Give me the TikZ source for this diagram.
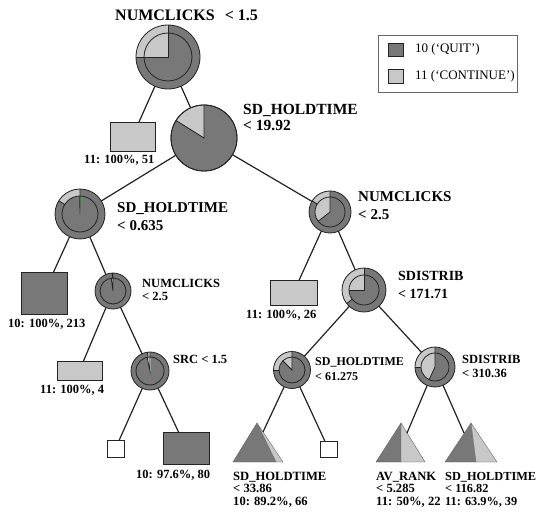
\documentclass[tikz,border=0pt]{standalone}
\usepackage{fontspec}
\setmainfont{Liberation Serif}
\usetikzlibrary{calc}

\definecolor{dk}{RGB}{120,120,120}
\definecolor{lt}{RGB}{200,200,200}
\definecolor{ln}{RGB}{35,35,35}
\definecolor{grn}{RGB}{60,170,60}

\newcommand\lblsize[1]{\fontsize{#1}{#1}\selectfont}

% double pie: outer ring = parent split, inner disc = node split
% #1 name, #2 centre, #3 outer radius, #4 inner radius,
% #5 end angle of the light outer wedge, #6 end angle of the light inner wedge
\newcommand\pienode[6]{%
  \node[circle, inner sep=0pt, outer sep=0pt, minimum size={2*#3pt}] (#1) at (#2) {};
  \begin{scope}[shift={(#1.center)}, yscale=-1]
    \fill[dk] (0,0) circle[radius=#3];
    \fill[lt] (0,0) -- (90:#3) arc[start angle=90, end angle=#5, radius=#3] -- cycle;
    \fill[dk] (0,0) circle[radius=#4];
    \fill[lt] (0,0) -- (90:#4) arc[start angle=90, end angle=#6, radius=#4] -- cycle;
    \draw[pieline] (#5:#4) -- (#5:#3);
    \draw[pieline] (90:#3) -- (0,0) -- (#6:#4);
    \draw[pieline] (0,0) circle[radius=#4];
    \draw[pieline] (0,0) circle[radius=#3];
  \end{scope}}

\begin{document}
\begin{tikzpicture}[x=1pt, y=-1pt,
    link/.style={draw=ln, line width=1.2pt},
    pieline/.style={draw=ln, line width=0.8pt},
    leafbox/.style={draw=ln, line width=0.8pt, inner sep=0pt, outer sep=0pt},
    lab/.style={anchor=base west, inner sep=0pt, font=\bfseries},
    leaflab/.style={anchor=base west, inner sep=0pt, font=\bfseries\lblsize{12.5}},
    tri/.style={draw=dk!80!black, line width=0.4pt, line join=round}]

  \useasboundingbox (0,0) rectangle (538,513);
  \fill[white] (0,0) rectangle (538,513);

  % ---- split nodes ----
  \pienode{root}{168,57}{32}{24}{180}{180}
  \pienode{sdh19}{204,138}{33}{33}{148}{148}
  \pienode{sdh635}{80,214}{25}{18}{148}{91}
  \draw[grn, line width=0.7pt] ([xshift=1pt]sdh635.center) -- ++(0.5,-17);
  \pienode{ncl}{113,291}{18}{13}{92}{98}
  \pienode{src}{150,371}{19}{14}{98}{102}
  \draw[grn!60!lt, line width=0.6pt] ([xshift=0.5pt]src.center) -- ++(0,-13);
  \pienode{ncr}{330,212}{21}{15}{148}{218}
  \pienode{sdi171}{364,290}{22}{15}{218}{180}
  \pienode{sdh61}{292,370}{18.5}{13}{180}{135}
  \pienode{sdi310}{435,367}{20}{14}{180}{245}

  % ---- leaves ----
  \node[leafbox, fill=lt, minimum width=45pt, minimum height=29pt] (l51) at (132.5,136.5) {};
  \node[leafbox, fill=dk, minimum width=46pt, minimum height=42pt] (l213) at (44,293) {};
  \node[leafbox, fill=lt, minimum width=45pt, minimum height=19pt] (l4) at (79.5,370.5) {};
  \node[leafbox, fill=lt, minimum width=47pt, minimum height=25pt] (l26) at (293.5,292.5) {};
  \node[leafbox, fill=dk, minimum width=46pt, minimum height=32pt] (l80) at (186,448) {};
  \node[leafbox, fill=white, minimum width=17pt, minimum height=17pt] (e1) at (115.5,448.5) {};
  \node[leafbox, fill=white, minimum width=17pt, minimum height=16pt] (e2) at (328.5,449) {};

  % pyramid leaves
  \fill[dk] (257,423) -- (233,462) -- (276,462) -- cycle;
  \fill[lt] (257,423) -- (276,462) -- (283,462) -- cycle;
  \draw[tri] (257,423) -- (233,462) -- (283,462) -- cycle (257,423) -- (276,462);
  \coordinate (t66) at (263,432);

  \fill[dk] (401,423) -- (376,462) -- (401,462) -- cycle;
  \fill[lt] (401,423) -- (401,462) -- (425,462) -- cycle;
  \draw[tri] (401,423) -- (376,462) -- (425,462) -- cycle (401,423) -- (401,462);
  \coordinate (tav) at (407,433);

  \fill[dk] (471,423) -- (445,462) -- (476,462) -- cycle;
  \fill[lt] (471,423) -- (476,462) -- (497,462) -- cycle;
  \draw[tri] (471,423) -- (445,462) -- (497,462) -- cycle (471,423) -- (476,462);
  \coordinate (t39) at (464,433);

  % ---- connectors ----
  \draw[link] (root) -- (l51);
  \draw[link] (root) -- (sdh19);
  \draw[link] (sdh19) -- (sdh635);
  \draw[link] (sdh19) -- (ncr);
  \draw[link] (sdh635) -- (l213);
  \draw[link] (sdh635) -- (ncl);
  \draw[link] (ncl) -- (l4);
  \draw[link] (ncl) -- (src);
  \draw[link] (src) -- (e1);
  \draw[link] (src) -- (l80);
  \draw[link] (ncr) -- (l26);
  \draw[link] (ncr) -- (sdi171);
  \draw[link] (sdi171) -- (sdh61);
  \draw[link] (sdi171) -- (sdi310);
  \draw[link] (sdh61) -- (t66);
  \draw[link] (sdh61) -- (e2);
  \draw[link] (sdi310) -- (tav);
  \draw[link] (sdi310) -- (t39);

  % ---- split labels ----
  \node[lab, font=\bfseries\lblsize{16}] (rootl) at (115,21) {NUMCLICKS\hspace{10pt}< 1.5};
  \node[lab, font=\bfseries\lblsize{15.5}] (sdh19a) at (243,115) {SD\_HOLDTIME};
  \node[lab, font=\bfseries\lblsize{15.5}] (sdh19b) at (243,131) {< 19.92};
  \node[lab, font=\bfseries\lblsize{15}] (sdh635a) at (117,213) {SD\_HOLDTIME};
  \node[lab, font=\bfseries\lblsize{15}] (sdh635b) at (117,230) {< 0.635};
  \node[lab, font=\bfseries\lblsize{15}] (ncra) at (358,202) {NUMCLICKS};
  \node[lab, font=\bfseries\lblsize{15}] (ncrb) at (358,220) {< 2.5};
  \node[lab, font=\bfseries\lblsize{14}] (sdi171a) at (398,280) {SDISTRIB};
  \node[lab, font=\bfseries\lblsize{14}] (sdi171b) at (398,298) {< 171.71};
  \node[lab, font=\bfseries\lblsize{12.5}] (ncla) at (142,287) {NUMCLICKS};
  \node[lab, font=\bfseries\lblsize{12.5}] (nclb) at (142,300) {< 2.5};
  \node[lab, font=\bfseries\lblsize{12.5}] (srcl) at (173,363) {SRC < 1.5};
  \node[lab, font=\bfseries\lblsize{12}] (sdh61a) at (315,365) {SD\_HOLDTIME};
  \node[lab, font=\bfseries\lblsize{12}] (sdh61b) at (315,380) {< 61.275};
  \node[lab, font=\bfseries\lblsize{12.5}] (sdi310a) at (462,363) {SDISTRIB};
  \node[lab, font=\bfseries\lblsize{12.5}] (sdi310b) at (462,377) {< 310.36};

  % ---- leaf labels ----
  \node[leaflab] (l51t) at (84,164) {11: 100\%, 51};
  \node[leaflab] (l213t) at (8,327) {10: 100\%, 213};
  \node[leaflab] (l4t) at (40,393) {11: 100\%, 4};
  \node[leaflab] (l26t) at (246,318) {11: 100\%, 26};
  \node[leaflab] (l80t) at (136,478) {10: 97.6\%, 80};

  \node[lab, font=\bfseries\lblsize{12.6}] (t66a) at (233,480) {SD\_HOLDTIME};
  \node[lab, font=\bfseries\lblsize{12.6}] (t66b) at (233,492) {< 33.86};
  \node[lab, font=\bfseries\lblsize{12.6}] (t66c) at (233,505) {10: 89.2\%, 66};
  \node[lab, font=\bfseries\lblsize{12.6}] (tava) at (376,480) {AV\_RANK};
  \node[lab, font=\bfseries\lblsize{12.6}] (tavb) at (376,492) {< 5.285};
  \node[lab, font=\bfseries\lblsize{12.6}] (tavc) at (376,505) {11: 50\%, 22};
  \node[lab, font=\bfseries\lblsize{12.3}] (t39a) at (445,480) {SD\_HOLDTIME};
  \node[lab, font=\bfseries\lblsize{12.3}] (t39b) at (445,492) {< 116.82};
  \node[lab, font=\bfseries\lblsize{12.3}] (t39c) at (445,505) {11: 63.9\%, 39};

  % ---- legend ----
  \node[draw=ln!70, line width=0.8pt, minimum width=139pt, minimum height=57pt, inner sep=0pt] (legend) at (447.5,63.5) {};
  \node[leafbox, fill=dk, minimum width=15pt, minimum height=13pt] (key10) at (395.5,49.5) {};
  \node[leafbox, fill=lt, minimum width=15pt, minimum height=14pt] (key11) at (395.5,76) {};
  \node[anchor=base west, inner sep=0pt, font=\lblsize{13}] (key10t) at (415,53) {10 (`QUIT')};
  \node[anchor=base west, inner sep=0pt, font=\lblsize{13}] (key11t) at (415,80) {11 (`CONTINUE')};
\end{tikzpicture}
\end{document}
